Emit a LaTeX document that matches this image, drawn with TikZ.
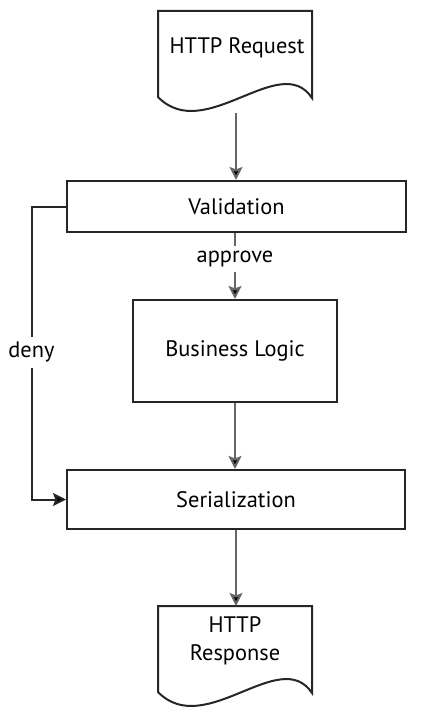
\documentclass[tikz,border=0pt]{standalone}
\usepackage{fontspec}
\setmainfont{PT Sans}
\usetikzlibrary{arrows.meta,positioning,calc}

\begin{document}
\begin{tikzpicture}[x=0.5pt,y=-0.5pt,
  box/.style={draw=black!85, line width=1pt, fill=white, inner sep=0pt, font=\fontsize{11.2}{14}\selectfont},
  txt/.style={inner sep=0pt, align=center, font=\fontsize{11.2}{14}\selectfont},
  link/.style={draw=black!60, line width=1pt, -{Stealth[length=6.5pt, width=6.5pt, inset=1.2pt, fill=black]}},
  tag/.style={fill=white, inner sep=2.5pt, font=\fontsize{11.2}{14}\selectfont}]

  % Fixed bounding box
  \useasboundingbox (0,0) rectangle (447,717);

  % Document shapes (request on top, response at bottom)
  \foreach \dy in {0,595} {
    \draw[black!85, line width=1pt, fill=white] (158,{97+\dy}) -- (158,{11+\dy}) -- (312,{11+\dy}) -- (312,{98+\dy})
      .. controls (280,{50+\dy}) and (205,{145+\dy}) .. (158,{97+\dy}) -- cycle;
  }
  \node[txt] (req) at (237,48) {HTTP Request};
  \node[txt] (resp) at (235,641) {HTTP\\Response};
  \coordinate (reqout) at (236,113);
  \coordinate (respin) at (236,606);

  % Process boxes
  \node[box, minimum width=339*0.5pt, minimum height=51*0.5pt] (val) at (236.5,206.5) {Validation};
  \node[box, minimum width=204*0.5pt, minimum height=102*0.5pt] (logic) at (235,351) {Business Logic};
  \node[box, minimum width=338*0.5pt, minimum height=59*0.5pt] (ser) at (236,499.5) {Serialization};

  % Connectors
  \draw[link] (reqout) -- (val.north -| reqout);
  \draw[link] (val.south -| logic) -- node[tag, pos=0.4] (appr) {approve} (logic.north);
  \draw[link, draw=black!85] (val.west) -- ++(-34.5,0) |- node[tag, pos=0.249] (deny) {deny} (ser.west);
  \draw[link] (logic.south) -- (ser.north -| logic);
  \draw[link] (ser.south -| respin) -- (respin);

\end{tikzpicture}
\end{document}
